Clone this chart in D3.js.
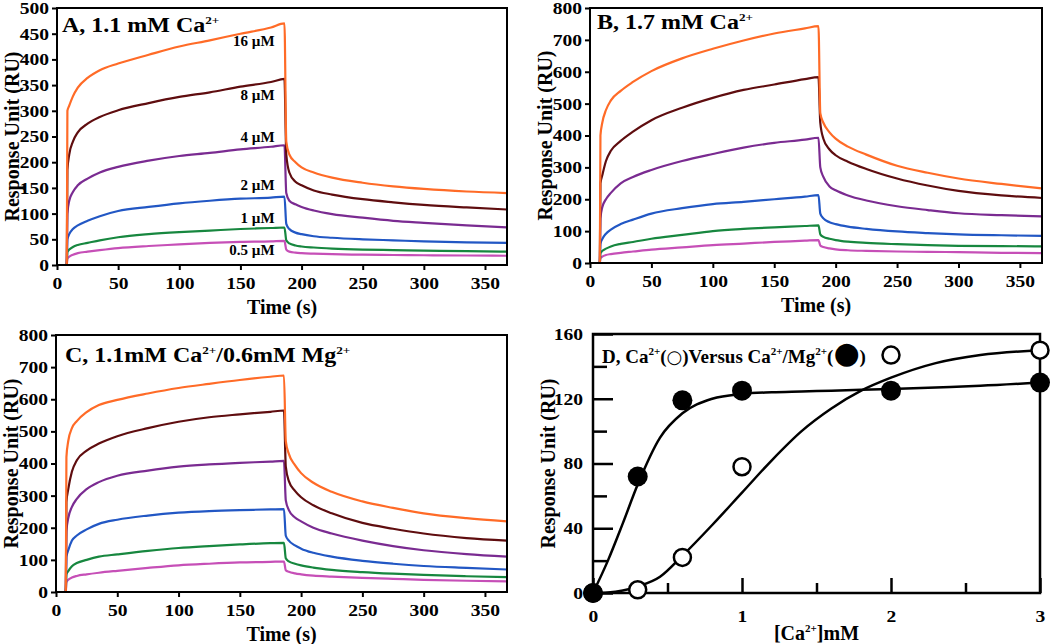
<!DOCTYPE html>
<html>
<head>
<meta charset="utf-8">
<script src="https://cdn.jsdelivr.net/npm/d3@7"></script>
<style>
  body { margin: 0; background: #fff; }
  svg text { font-family: 'Liberation Serif', 'Times New Roman', serif; font-weight: bold; }
</style>
</head>
<body>
<svg id="chart" width="1050" height="644"></svg>
<script>
// sampling times (s), shared by all sensorgrams
const times = [0, 8, 8.5, 10, 13, 17, 25, 35, 50, 75, 100, 125, 150, 175, 186, 187.5, 190, 195, 200, 210, 225, 250, 275, 300, 335, 368]
const timeTicks = [0, 50, 100, 150, 200, 250, 300, 350]
const concLabels = ['0.5 \u00b5M', '1 \u00b5M', '2 \u00b5M', '4 \u00b5M', '8 \u00b5M', '16 \u00b5M']
const labelRU = [19, 82, 146, 239, 321, 426]
const colors = ['#c64fb7', '#17873f', '#2257c4', '#7a2b91', '#5f0d0f', '#ff6b27']

// panel A, 1.1 mM Ca
const a05 = [0, 0, 12, 16, 20, 23, 26, 29, 33, 37, 40, 43, 45, 46, 47, 30, 26, 24, 23, 22, 21, 20, 19.5, 19, 18.5, 18]
const a1 = [0, 0, 25, 30, 35, 39, 43, 48, 54, 60, 64, 67, 70, 72, 73, 48, 42, 38, 36, 34, 32, 30, 29, 28, 27, 26]
const a2 = [0, 0, 50, 60, 70, 77, 86, 95, 105, 113, 120, 125, 129, 131, 133, 80, 70, 63, 60, 56, 53, 50, 48, 46, 44, 43]
const a4 = [0, 0, 100, 125, 142, 155, 168, 180, 191, 203, 212, 218, 225, 230, 233, 140, 125, 118, 113, 106, 99, 92, 86, 82, 77, 73]
const a8 = [0, 0, 185, 215, 240, 258, 275, 288, 301, 315, 327, 336, 347, 356, 362, 215, 180, 162, 155, 145, 137, 128, 122, 117, 112, 108]
const a16 = [0, 0, 300, 310, 328, 345, 364, 379, 392, 409, 425, 437, 450, 462, 470, 240, 215, 200, 190, 180, 170, 160, 153, 148, 143, 140]

// panel B, 1.7 mM Ca
const b05 = [0, 0, 15, 20, 25, 28, 32, 36, 42, 49, 56, 61, 66, 70, 72, 55, 50, 46, 43, 40, 38, 36, 35, 34, 32, 31]
const b1 = [0, 0, 30, 38, 45, 52, 60, 66, 76, 88, 100, 107, 112, 116, 118, 90, 82, 76, 72, 67, 63, 59, 56, 54, 53, 52]
const b2 = [0, 0, 60, 75, 92, 105, 122, 136, 155, 172, 185, 192, 200, 208, 213, 155, 140, 128, 122, 114, 107, 99, 94, 90, 87, 85]
const b4 = [0, 0, 140, 175, 200, 220, 250, 270, 292, 320, 342, 362, 377, 387, 393, 300, 270, 240, 228, 212, 196, 178, 166, 156, 150, 146]
const b8 = [0, 0, 250, 275, 320, 352, 383, 412, 448, 487, 518, 543, 560, 577, 583, 440, 390, 356, 338, 318, 295, 265, 243, 226, 212, 204]
const b16 = [0, 0, 400, 440, 480, 510, 540, 568, 602, 642, 672, 698, 720, 736, 743, 470, 440, 410, 390, 365, 340, 305, 283, 265, 248, 234]

// panel C, 1.1 mM Ca / 0.6 mM Mg
const c05 = [0, 0, 30, 38, 45, 50, 55, 60, 66, 75, 83, 88, 92, 94, 95, 68, 63, 58, 55, 51, 48, 44, 41, 38, 35, 33]
const c1 = [0, 0, 55, 65, 80, 90, 100, 110, 117, 128, 137, 143, 148, 152, 153, 105, 95, 88, 83, 76, 69, 62, 57, 53, 49, 46]
const c2 = [0, 0, 110, 130, 160, 176, 195, 212, 225, 238, 247, 252, 255, 257, 258, 175, 160, 145, 135, 122, 110, 97, 88, 81, 75, 70]
const c4 = [0, 0, 190, 230, 265, 290, 320, 342, 362, 378, 390, 397, 402, 406, 408, 285, 255, 232, 220, 200, 182, 160, 143, 130, 118, 110]
const c8 = [0, 0, 280, 320, 375, 410, 440, 462, 485, 510, 530, 544, 553, 561, 565, 390, 345, 315, 295, 270, 245, 215, 197, 182, 168, 160]
const c16 = [0, 0, 420, 470, 510, 532, 560, 582, 598, 618, 635, 648, 660, 670, 674, 470, 430, 395, 370, 340, 312, 282, 262, 245, 230, 220]

// panel D, response vs [Ca]
const dConc = [0, 0.3, 0.6, 1, 2, 3]
const dCa = [0, 2, 22, 78, 147, 150]
const dCaMg = [0, 72, 119, 125, 125, 130]
const fitConc = [0, 0.1, 0.2, 0.3, 0.45, 0.6, 0.8, 1, 1.2, 1.4, 1.6, 1.8, 2, 2.3, 2.6, 3]
const fitCa = [0, 0.3, 1.5, 4, 10, 23, 42, 62, 82, 100, 114, 125, 133, 142, 147, 150]
const fitCaMg = [0, 20, 43, 67, 96, 111, 120, 123, 124, 124.5, 125, 125.5, 126, 127, 128, 130]

const svg = d3.select('#chart')

// the figure's bold serif text is a little wider than Liberation Serif
function stretch(sel, k) {
  sel.each(function() {
    const t = d3.select(this)
    const x = +t.attr('x') || 0
    t.attr('x', x / k).attr('transform', 'scale(' + k + ',1)')
  })
}

function addTitle(g, x, y, size, k, parts) {
  const t = g.append('text').attr('x', x).attr('y', y).attr('font-size', size)
  let shift = 0
  parts.forEach(function(p) {
    let s
    if (p.sup) {
      s = t.append('tspan').attr('font-size', 11).attr('dy', shift - 8).text(p.sup)
      shift = 8
    } else {
      s = t.append('tspan').text(p.t)
      if (shift) s.attr('dy', shift)
      shift = 0
      if (p.size) s.attr('font-size', p.size).attr('font-family', 'DejaVu Sans')
    }
  })
  if (k !== 1) stretch(t, k)
  return t
}

function drawPanel(p) {
  const x = d3.scaleLinear().domain([0, 368]).range([p.left, p.right])
  const y = d3.scaleLinear().domain([0, p.yMax]).range([p.bottom, p.top])
  const g = svg.append('g')

  g.append('g')
    .attr('transform', 'translate(0,' + p.bottom + ')')
    .call(d3.axisBottom(x).tickValues(timeTicks).tickSize(5).tickPadding(7))
  g.append('g')
    .attr('transform', 'translate(' + p.left + ',0)')
    .call(d3.axisLeft(y).tickValues(d3.range(0, p.yMax + 1, p.yStep)).tickSize(5).tickPadding(3))
  g.selectAll('.domain').remove()
  g.selectAll('.tick line').attr('stroke', '#000').attr('stroke-width', 2)
  g.selectAll('.tick text').attr('font-size', 17).attr('fill', '#000')
  stretch(g.selectAll('.tick text'), 1.15)

  const line = d3.line()
    .x(function(d, i) { return x(times[i]) })
    .y(function(d) { return y(d) })
    .curve(d3.curveMonotoneX)

  g.selectAll('.sg')
    .data(p.series)
    .enter()
    .append('path')
    .attr('class', 'sg')
    .attr('d', line)
    .attr('fill', 'none')
    .attr('stroke', function(d, i) { return colors[i] })
    .attr('stroke-width', 2.2)

  g.append('rect')
    .attr('x', p.left).attr('y', p.top)
    .attr('width', p.right - p.left).attr('height', p.bottom - p.top)
    .attr('fill', 'none').attr('stroke', '#000').attr('stroke-width', 2)

  if (p.labels) {
    g.selectAll('.conc')
      .data(concLabels)
      .enter()
      .append('text')
      .attr('x', x(178))
      .attr('y', function(d, i) { return y(labelRU[i]) })
      .attr('text-anchor', 'end')
      .attr('font-size', 15)
      .text(function(d) { return d })
  }

  addTitle(g, p.left + p.titleDx, p.top + p.titleDy, 20, 1.2, p.title)

  g.append('text')
    .attr('x', (p.left + p.right) / 2).attr('y', p.bottom + 49)
    .attr('text-anchor', 'middle').attr('font-size', 20)
    .text('Time (s)')
  g.append('text')
    .attr('transform', 'translate(' + (p.left - 38) + ',' + ((p.top + p.bottom) / 2) + ') rotate(-90)')
    .attr('text-anchor', 'middle').attr('font-size', 20)
    .text('Response Unit (RU)')
}

drawPanel({
  left: 57, right: 507, top: 8, bottom: 265, yMax: 500, yStep: 50,
  series: [a05, a1, a2, a4, a8, a16], labels: true,
  titleDx: 5, titleDy: 24,
  title: [{ t: 'A, 1.1 mM Ca' }, { sup: '2+' }]
})
drawPanel({
  left: 590, right: 1042, top: 8, bottom: 263, yMax: 800, yStep: 100,
  series: [b05, b1, b2, b4, b8, b16],
  titleDx: 7, titleDy: 21,
  title: [{ t: 'B, 1.7 mM Ca' }, { sup: '2+' }]
})
drawPanel({
  left: 56, right: 507, top: 335, bottom: 592, yMax: 800, yStep: 100,
  series: [c05, c1, c2, c4, c8, c16],
  titleDx: 9, titleDy: 27,
  title: [{ t: 'C, 1.1mM Ca' }, { sup: '2+' }, { t: '/0.6mM Mg' }, { sup: '2+' }]
})

// panel D
const dLeft = 593, dRight = 1040, dTop = 334, dBottom = 593
const xD = d3.scaleLinear().domain([0, 3]).range([dLeft, dRight])
const yD = d3.scaleLinear().domain([0, 160]).range([dBottom, dTop])
const gD = svg.append('g')

gD.append('g')
  .attr('transform', 'translate(0,' + dBottom + ')')
  .call(d3.axisBottom(xD).tickValues([0, 1, 2, 3]).tickSize(-15).tickPadding(17).tickFormat(d3.format('d')))
gD.append('g')
  .attr('transform', 'translate(0,' + dBottom + ')')
  .call(d3.axisBottom(xD).tickValues([0.5, 1.5, 2.5]).tickSize(-10).tickFormat(''))
gD.append('g')
  .attr('transform', 'translate(' + dLeft + ',0)')
  .call(d3.axisLeft(yD).tickValues([0, 40, 80, 120, 160]).tickSize(-20).tickPadding(10))
gD.append('g')
  .attr('transform', 'translate(' + dLeft + ',0)')
  .call(d3.axisLeft(yD).tickValues([20, 60, 100, 140]).tickSize(-14).tickFormat(''))
gD.selectAll('.domain').remove()
gD.selectAll('.tick line').attr('stroke', '#000').attr('stroke-width', 2.5)
gD.selectAll('.tick text').attr('font-size', 17).attr('fill', '#000')
stretch(gD.selectAll('.tick text'), 1.15)

gD.append('rect')
  .attr('x', dLeft).attr('y', dTop)
  .attr('width', dRight - dLeft).attr('height', dBottom - dTop)
  .attr('fill', 'none').attr('stroke', '#000').attr('stroke-width', 2.5)

const fitLine = d3.line()
  .x(function(d, i) { return xD(fitConc[i]) })
  .y(function(d) { return yD(d) })
  .curve(d3.curveMonotoneX)

gD.selectAll('.fit')
  .data([fitCa, fitCaMg])
  .enter()
  .append('path')
  .attr('class', 'fit')
  .attr('d', fitLine)
  .attr('fill', 'none')
  .attr('stroke', '#000')
  .attr('stroke-width', 2.5)

gD.selectAll('.open')
  .data(dCa)
  .enter()
  .append('circle')
  .attr('class', 'open')
  .attr('cx', function(d, i) { return xD(dConc[i]) })
  .attr('cy', function(d) { return yD(d) })
  .attr('r', 8.5)
  .attr('fill', '#fff')
  .attr('stroke', '#000')
  .attr('stroke-width', 2.5)

gD.selectAll('.filled')
  .data(dCaMg)
  .enter()
  .append('circle')
  .attr('class', 'filled')
  .attr('cx', function(d, i) { return xD(dConc[i]) })
  .attr('cy', function(d) { return yD(d) })
  .attr('r', 10)
  .attr('fill', '#000')

addTitle(gD, dLeft + 9, dTop + 29, 19, 1, [
  { t: 'D, Ca' }, { sup: '2+' }, { t: '(' }, { t: '\u25cb', size: 18 }, { t: ')Versus Ca' },
  { sup: '2+' }, { t: '/Mg' }, { sup: '2+' }, { t: '(' }, { t: '\u25cf', size: 30 }, { t: ')' }
])

const xt = gD.append('text')
  .attr('x', (dLeft + dRight) / 2).attr('y', 640)
  .attr('text-anchor', 'middle').attr('font-size', 20)
xt.append('tspan').text('[Ca')
xt.append('tspan').attr('font-size', 11).attr('dy', -8).text('2+')
xt.append('tspan').attr('dy', 8).text(']mM')

gD.append('text')
  .attr('transform', 'translate(' + (dLeft - 38) + ',' + ((dTop + dBottom) / 2) + ') rotate(-90)')
  .attr('text-anchor', 'middle').attr('font-size', 20)
  .text('Response Unit (RU)')
</script>
</body>
</html>
